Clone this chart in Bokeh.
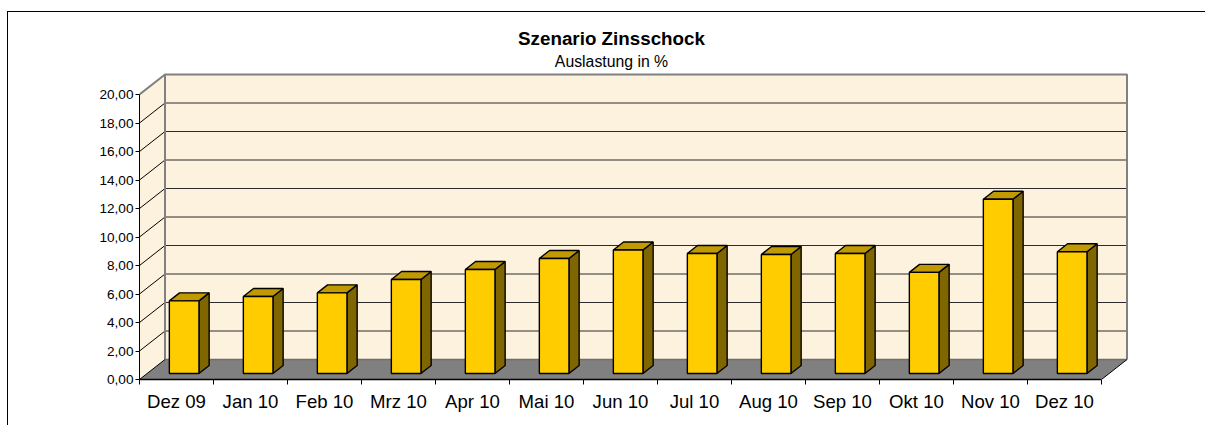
from bokeh.plotting import figure
from bokeh.embed import file_html
from bokeh.resources import INLINE
from bokeh.models import LinearAxis, FixedTicker, Range1d
from bokeh.core.properties import value

categories = ["Dez 09", "Jan 10", "Feb 10", "Mrz 10", "Apr 10", "Mai 10", "Jun 10",
              "Jul 10", "Aug 10", "Sep 10", "Okt 10", "Nov 10", "Dez 10"]
auslastung = [5.10, 5.40, 5.66, 6.60, 7.30, 8.07, 8.67, 8.42, 8.35, 8.42, 7.10, 12.23, 8.54]
y_ticks = [0, 2, 4, 6, 8, 10, 12, 14, 16, 18, 20]
y_labels = ["0,00", "2,00", "4,00", "6,00", "8,00", "10,00", "12,00", "14,00", "16,00", "18,00", "20,00"]
title_text = "Szenario Zinsschock"
subtitle_text = "Auslastung in %"

ORG_X, ORG_Y = 8, 12          # page position of the figure's canvas
W, H = 1206 - ORG_X, 426 - ORG_Y
AX_X, AX_Y = 139, 379         # page position of the value-axis foot
LEFT, BOTTOM = AX_X - ORG_X, 426 - AX_Y
PX_X = 74.0      # pixels per category
PX_Y = 14.25     # pixels per percent
DX = 25.5 / PX_X # full depth in data units
DY = 20.0 / PX_Y
N = len(categories)
FONT = "Liberation Sans"

def depth(x, y, d):
    return x + DX * d, y + DY * d

p = figure(width=W, height=H, output_backend="svg", toolbar_location=None,
           x_axis_type=None, y_axis_type=None, min_border=0,
           min_border_left=LEFT, min_border_bottom=BOTTOM, min_border_right=0, min_border_top=0,
           background_fill_color="white", border_fill_color="white", outline_line_color=None,
           x_range=Range1d(0, (W - LEFT) / PX_X),
           y_range=Range1d(0, (H - BOTTOM) / PX_Y))
# outer chart frame: only its top and left edges are visible in the window
p.margin = (ORG_Y - 1, 0, 0, ORG_X - 1)
p.styles = {"border-top": "1px solid #000000", "border-left": "1px solid #000000"}

# walls
bx0, by0 = depth(0, 0, 1)
bx1, by1 = depth(N, 20, 1)
WALL = "#FDF2DD"
p.patches([[bx0, bx1, bx1, bx0], [0, bx0, bx0, 0]],
          [[by0, by0, by1, by1], [0, by0, by1, 20]],
          fill_color=WALL, line_color=None)

# gridlines
grid = y_ticks[1:-1]
p.multi_line([[bx0, bx1] for _ in grid], [[depth(0, v, 1)[1]] * 2 for v in grid],
             line_color="#2b2b2b", line_width=1)
p.multi_line([[0, bx0] for _ in grid], [[v, depth(0, v, 1)[1]] for v in grid],
             line_color="#000000", line_width=1)

# wall outline
p.multi_line([[0, bx0, bx1, bx1], [bx0, bx0]], [[20, by1, by1, by0], [by0, by1]],
             line_color="#808080", line_width=2)

# floor
p.patch([0, N, bx1, bx0], [0, 0, by0, by0], fill_color="#808080", line_color=None)
p.line([bx0, bx1], [by0, by0], line_color="#6e6e6e", line_width=1.5)
p.multi_line([[0, bx0], [N, bx1]], [[0, by0], [0, by0]], line_color="#000000", line_width=1)

# bars
BW = 0.4
front_x, front_y, top_x, top_y, side_x, side_y = [], [], [], [], [], []
for i, v in enumerate(auslastung):
    l, r = i + 0.5 - BW / 2, i + 0.5 + BW / 2
    l0, b0 = depth(l, 0, 0.3)
    r0, _ = depth(r, 0, 0.3)
    t0 = depth(l, v, 0.3)[1]
    l1, b1 = depth(l, 0, 0.7)
    r1, _ = depth(r, 0, 0.7)
    t1 = depth(l, v, 0.7)[1]
    front_x.append([l0, r0, r0, l0]); front_y.append([b0, b0, t0, t0])
    top_x.append([l0, r0, r1, l1]); top_y.append([t0, t0, t1, t1])
    side_x.append([r0, r1, r1, r0]); side_y.append([b0, b1, t1, t0])
p.patches(side_x, side_y, fill_color="#806600", line_color="#000000", line_width=1.4)
p.patches(top_x, top_y, fill_color="#C09A00", line_color="#000000", line_width=1.4)
p.patches(front_x, front_y, fill_color="#FFCC00", line_color="#000000", line_width=1.4)

# axes
ya = LinearAxis(ticker=FixedTicker(ticks=y_ticks), bounds=(0, 20),
                major_label_overrides=dict(zip(y_ticks, y_labels)),
                major_label_text_font=FONT, major_label_text_font_size="13.6px",
                major_label_text_color="#000000", major_label_standoff=2,
                major_tick_in=0, major_tick_out=4, minor_tick_line_color=None,
                axis_line_color="#000000", major_tick_line_color="#000000")
p.add_layout(ya, "left")

centers = [i + 0.5 for i in range(N)]
xa = LinearAxis(ticker=FixedTicker(ticks=centers, minor_ticks=list(range(N + 1))), bounds=(0, N),
                major_label_overrides=dict(zip(centers, categories)),
                major_label_text_font=FONT, major_label_text_font_size="18.6px",
                major_label_text_color="#000000", major_label_standoff=6,
                major_tick_in=0, major_tick_out=0, minor_tick_in=0, minor_tick_out=5,
                axis_line_color="#000000", minor_tick_line_color="#000000", axis_line_width=1.5)
p.add_layout(xa, "below")

# titles
cx = (611 - AX_X) / PX_X
p.text([cx], [(AX_Y - 38) / PX_Y], text=[title_text], text_font=value(FONT), text_font_size="18.8px",
       text_font_style="bold", text_align="center", text_baseline="middle", text_color="#000000")
p.text([cx], [(AX_Y - 61) / PX_Y], text=[subtitle_text], text_font=value(FONT), text_font_size="15.8px",
       text_align="center", text_baseline="middle", text_color="#000000")

open("out.html", "w").write(file_html(p, INLINE))
